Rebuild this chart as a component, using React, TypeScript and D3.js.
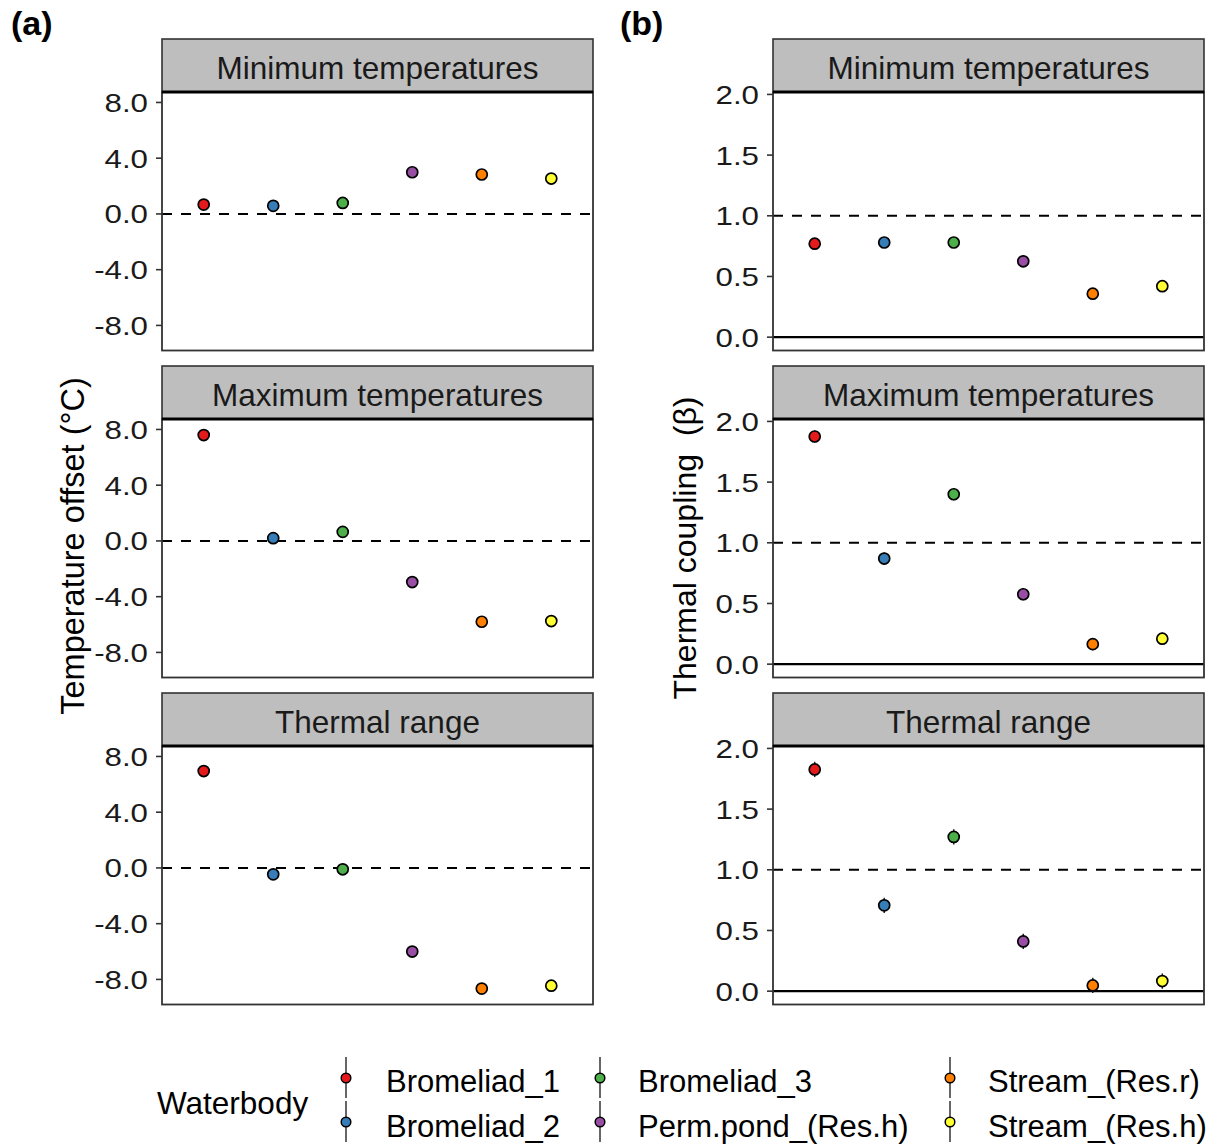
import React from "react";
import * as d3 from "d3";

const waterbodies = ["Bromeliad_1", "Bromeliad_2", "Bromeliad_3", "Perm.pond_(Res.h)", "Stream_(Res.r)", "Stream_(Res.h)"];
const colors = ["#E41A1C", "#377EB8", "#4DAF4A", "#984EA3", "#FF7F00", "#FFFF33"];
const facets = ["Minimum temperatures", "Maximum temperatures", "Thermal range"];

const offsetMin = [0.67, 0.58, 0.79, 2.99, 2.83, 2.54];
const offsetMax = [7.6, 0.2, 0.65, -2.95, -5.8, -5.75];
const offsetRange = [6.95, -0.46, -0.1, -6.0, -8.66, -8.45];
const offsetMinSE = [0.2, 0.2, 0.2, 0.2, 0.2, 0.2];
const offsetMaxSE = [0.25, 0.25, 0.25, 0.25, 0.25, 0.25];
const offsetRangeSE = [0.3, 0.3, 0.3, 0.3, 0.3, 0.3];

const couplingMin = [0.77, 0.78, 0.78, 0.625, 0.358, 0.42];
const couplingMax = [1.876, 0.87, 1.4, 0.576, 0.165, 0.21];
const couplingRange = [1.827, 0.707, 1.271, 0.41, 0.047, 0.083];
const couplingMinSE = [0.03, 0.03, 0.03, 0.03, 0.03, 0.03];
const couplingMaxSE = [0.05, 0.05, 0.05, 0.05, 0.05, 0.05];
const couplingRangeSE = [0.063, 0.063, 0.063, 0.063, 0.063, 0.063];

const offsetTicks = [8, 4, 0, -4, -8];
const couplingTicks = [2.0, 1.5, 1.0, 0.5, 0.0];

const FONT = "'Liberation Sans', Arial, sans-serif";
const stripTops = [39, 366, 693];
const STRIP_H = 53;
const PANEL_H = 258.5;

type ColSpec = {
  left: number;
  right: number;
  domain: [number, number];
  ticks: number[];
  series: number[][];
  se: number[][];
  dashed: number;
  solidZero: boolean;
  label: string;
  labelX: number;
  title: string;
  titleX: number;
  titleY: number;
  titleSize: number;
};

const cols: ColSpec[] = [
  {
    left: 162, right: 593, domain: [-9.8, 8.75], ticks: offsetTicks,
    series: [offsetMin, offsetMax, offsetRange], se: [offsetMinSE, offsetMaxSE, offsetRangeSE],
    dashed: 0, solidZero: false,
    label: "(a)", labelX: 11, title: "Temperature offset (°C)", titleX: 84, titleY: 546, titleSize: 32.5,
  },
  {
    left: 773, right: 1204, domain: [-0.11, 2.02], ticks: couplingTicks,
    series: [couplingMin, couplingMax, couplingRange], se: [couplingMinSE, couplingMaxSE, couplingRangeSE],
    dashed: 1, solidZero: true,
    label: "(b)", labelX: 620, title: "Thermal coupling  (β)", titleX: 696, titleY: 548, titleSize: 32,
  },
];

function Panel({ col, row }: { col: ColSpec; row: number }) {
  const sTop = stripTops[row];
  const pTop = sTop + STRIP_H;
  const pBot = pTop + PANEL_H;
  const x = d3.scalePoint<string>().domain(waterbodies).range([col.left, col.right]).padding(0.6);
  const y = d3.scaleLinear().domain(col.domain).range([pBot, pTop]);
  const vals = col.series[row];
  const se = col.se[row];
  const fmt = (t: number) => t.toFixed(1);
  return (
    <g>
      <rect x={col.left} y={sTop} width={col.right - col.left} height={STRIP_H} fill="#BEBEBE" stroke="#333" strokeWidth={1.6} />
      <text x={(col.left + col.right) / 2} y={sTop + 39.5} textAnchor="middle" fontFamily={FONT} fontSize={31.5} fill="#1A1A1A">
        {facets[row]}
      </text>
      <rect x={col.left} y={pTop} width={col.right - col.left} height={PANEL_H} fill="#FFFFFF" stroke="none" />
      <line x1={col.left} x2={col.right} y1={y(col.dashed)} y2={y(col.dashed)} stroke="#000" strokeWidth={2} strokeDasharray="10,9" />
      {col.solidZero && <line x1={col.left} x2={col.right} y1={y(0)} y2={y(0)} stroke="#000" strokeWidth={2.2} />}
      {vals.map((v, i) => (
        <g key={i}>
          <line x1={x(waterbodies[i])} x2={x(waterbodies[i])} y1={y(v - se[i])} y2={y(v + se[i])} stroke="#222" strokeWidth={1.5} />
          <circle cx={x(waterbodies[i])} cy={y(v)} r={5.5} fill={colors[i]} stroke="#000" strokeWidth={1.7} />
        </g>
      ))}
      <rect x={col.left} y={pTop} width={col.right - col.left} height={PANEL_H} fill="none" stroke="#333" strokeWidth={1.8} />
      <line x1={col.left} x2={col.right} y1={pTop} y2={pTop} stroke="#000" strokeWidth={3} />
      {col.ticks.map((t) => (
        <g key={t}>
          <line x1={col.left - 6} x2={col.left} y1={y(t)} y2={y(t)} stroke="#333" strokeWidth={1.6} />
          <g transform={`translate(${col.left - 14},${y(t) + 9.5}) scale(1.18,1)`}>
            <text x={0} y={0} textAnchor="end" fontFamily={FONT} fontSize={26.5} fill="#1A1A1A">
              {fmt(t)}
            </text>
          </g>
        </g>
      ))}
    </g>
  );
}

const legendKeyX = [346, 600, 950];
const legendLabelX = [386, 638, 988];
const legendPointY = [1078, 1122];
const legendTextY = [1092, 1137];

export default function App() {
  return (
    <svg width={1222} height={1146} style={{ position: "absolute", left: 0, top: 0, background: "#fff" }}>
      <rect x={0} y={0} width={1222} height={1146} fill="#fff" />
      {cols.map((col, ci) => (
        <g key={ci}>
          <text x={col.labelX} y={35} fontFamily={FONT} fontSize={34} fontWeight="bold" fill="#000">
            {col.label}
          </text>
          <text
            transform={`translate(${col.titleX},${col.titleY}) rotate(-90)`}
            textAnchor="middle"
            fontFamily={FONT}
            fontSize={col.titleSize}
            fill="#000"
            style={{ whiteSpace: "pre" }}
          >
            {col.title}
          </text>
          {[0, 1, 2].map((r) => (
            <Panel key={r} col={col} row={r} />
          ))}
        </g>
      ))}
      <text x={157} y={1114} fontFamily={FONT} fontSize={31.5} fill="#000">Waterbody</text>
      {waterbodies.map((w, i) => {
        const c = Math.floor(i / 2);
        const r = i % 2;
        const py = legendPointY[r];
        return (
          <g key={w}>
            <line x1={legendKeyX[c]} x2={legendKeyX[c]} y1={py - 21} y2={py + 20} stroke="#333" strokeWidth={1.5} />
            <circle cx={legendKeyX[c]} cy={py} r={4.8} fill={colors[i]} stroke="#000" strokeWidth={1.5} />
            <text x={legendLabelX[c]} y={legendTextY[r]} fontFamily={FONT} fontSize={31} fill="#000">{w}</text>
          </g>
        );
      })}
    </svg>
  );
}
